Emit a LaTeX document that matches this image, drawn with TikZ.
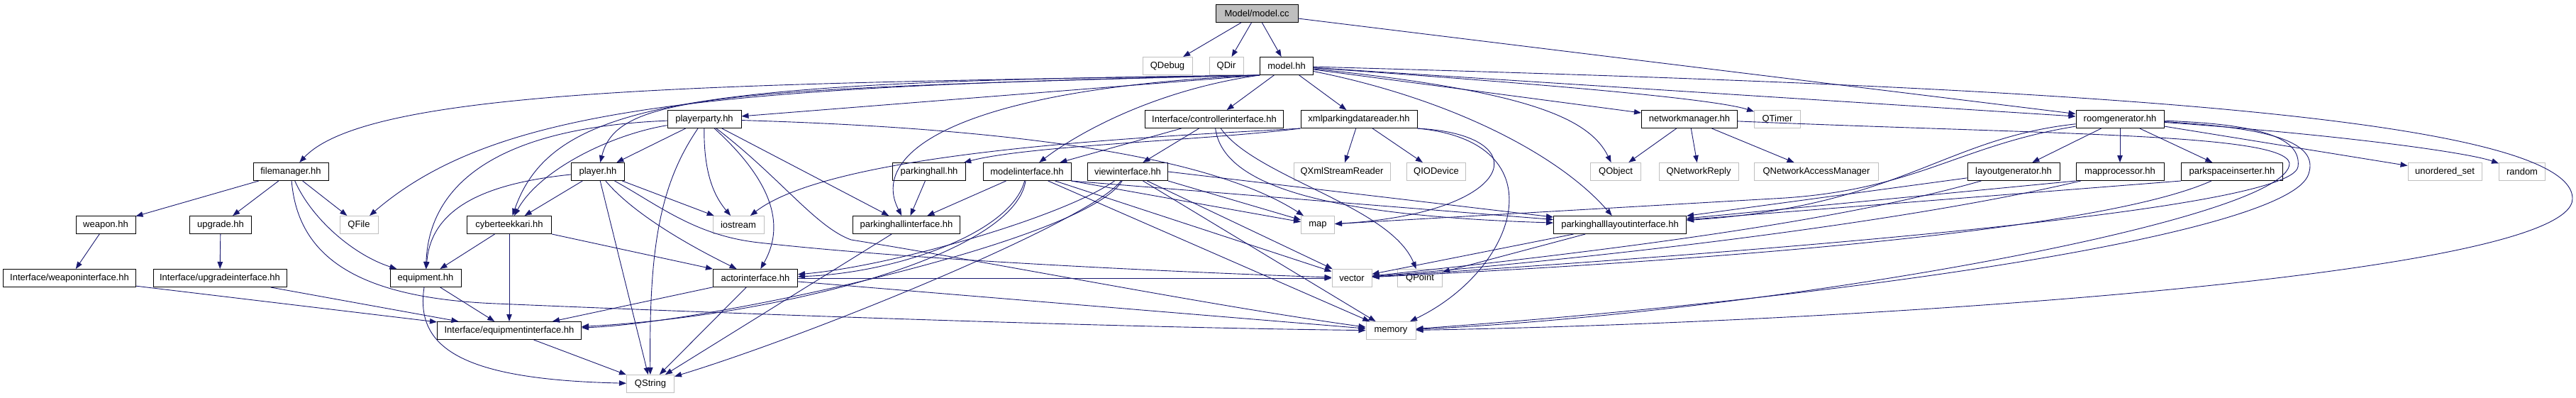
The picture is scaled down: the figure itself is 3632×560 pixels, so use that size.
\documentclass[tikz,border=0pt]{standalone}
\usepackage{fontspec}
\setmainfont{Liberation Sans}
\usetikzlibrary{arrows.meta}
\definecolor{edgeblue}{RGB}{25,25,112}
\definecolor{sysgray}{RGB}{191,191,191}
\tikzset{
  hdr/.style={draw=black, fill=white, line width=1pt, minimum height=25pt,
    inner xsep=1pt, inner ysep=0pt, font=\fontsize{13}{15}\selectfont},
  sys/.style={hdr, draw=sysgray},
  src/.style={hdr, fill=sysgray},
  inc/.style={draw=edgeblue, line width=0.9pt, -{Triangle[length=10pt,width=7.5pt]}},
}

\begin{document}
\begin{tikzpicture}[x=1pt, y=-1pt]
  \useasboundingbox (0,0) rectangle (3632,560);

  \node[src, minimum width=116pt] (modelcc) at (1772,19) {Model/model.cc};
  \node[sys, minimum width=70pt] (qdebug) at (1646,93) {QDebug};
  \node[sys, minimum width=48pt] (qdir) at (1729,93) {QDir};
  \node[hdr, minimum width=75pt] (modelhh) at (1814,93) {model.hh};

  \node[hdr, minimum width=104pt] (playerparty) at (993,168) {playerparty.hh};
  \node[hdr, minimum width=195pt] (ctrlif) at (1712,168) {Interface/controllerinterface.hh};
  \node[hdr, minimum width=164pt] (xmlreader) at (1916,168) {xmlparkingdatareader.hh};
  \node[hdr, minimum width=135pt] (netmgr) at (2382,168) {networkmanager.hh};
  \node[sys, minimum width=65pt] (qtimer) at (2506,168) {QTimer};
  \node[hdr, minimum width=124pt] (roomgen) at (2989,168) {roomgenerator.hh};

  \node[hdr, minimum width=106pt] (filemgr) at (410,242) {filemanager.hh};
  \node[hdr, minimum width=75pt] (player) at (843,242) {player.hh};
  \node[hdr, minimum width=103pt] (parkhall) at (1310,242) {parkinghall.hh};
  \node[hdr, minimum width=124pt] (modelif) at (1448,242) {modelinterface.hh};
  \node[hdr, minimum width=113pt] (viewif) at (1590,242) {viewinterface.hh};
  \node[sys, minimum width=136pt] (qxml) at (1892,242) {QXmlStreamReader};
  \node[sys, minimum width=83pt] (qiodev) at (2025,242) {QIODevice};
  \node[sys, minimum width=71pt] (qobject) at (2278,242) {QObject};
  \node[sys, minimum width=112pt] (qnetreply) at (2395,242) {QNetworkReply};
  \node[sys, minimum width=175pt] (qnam) at (2561,242) {QNetworkAccessManager};
  \node[hdr, minimum width=130pt] (layoutgen) at (2839,242) {layoutgenerator.hh};
  \node[hdr, minimum width=124pt] (mapproc) at (2989,242) {mapprocessor.hh};
  \node[hdr, minimum width=143pt] (parkspace) at (3147,242) {parkspaceinserter.hh};
  \node[sys, minimum width=104pt] (uset) at (3447,242) {unordered\_set};
  \node[sys, minimum width=65pt] (random) at (3556,242) {random};

  \node[hdr, minimum width=84pt] (weapon) at (149,317) {weapon.hh};
  \node[hdr, minimum width=87pt] (upgrade) at (311,317) {upgrade.hh};
  \node[sys, minimum width=54pt] (qfile) at (506,317) {QFile};
  \node[hdr, minimum width=119pt] (cyber) at (718,317) {cyberteekkari.hh};
  \node[sys, minimum width=72pt] (iostream) at (1041,317) {iostream};
  \node[hdr, minimum width=151pt] (parkhallif) at (1278,317) {parkinghallinterface.hh};
  \node[sys, minimum width=47pt] (map) at (1858,317) {map};
  \node[hdr, minimum width=187pt] (layoutif) at (2284,317) {parkinghalllayoutinterface.hh};

  \node[hdr, minimum width=187pt] (weaponif) at (98,392) {Interface/weaponinterface.hh};
  \node[hdr, minimum width=188pt] (upgradeif) at (310,392) {Interface/upgradeinterface.hh};
  \node[hdr, minimum width=100pt] (equipment) at (600,392) {equipment.hh};
  \node[hdr, minimum width=119pt] (actorif) at (1065,392) {actorinterface.hh};
  \node[sys, minimum width=56pt] (vector) at (1906,392) {vector};
  \node[sys, minimum width=63pt] (qpoint) at (2002,392) {QPoint};

  \node[hdr, minimum width=203pt] (equipif) at (718,466) {Interface/equipmentinterface.hh};
  \node[sys, minimum width=70pt] (memory) at (1961,466) {memory};

  \node[sys, minimum width=67pt] (qstring) at (917,541) {QString};

  \draw[inc] (modelcc) -- (qdebug);
  \draw[inc] (modelcc) -- (qdir);
  \draw[inc] (modelcc) -- (modelhh);
  \draw[inc] (modelcc) -- (roomgen);

  \draw[inc] (modelhh.south west) -- (playerparty);
  \draw[inc] (modelhh.south west) .. controls (1000,118) and (520,125) .. (filemgr);
  \draw[inc] (modelhh.south west) .. controls (1000,122) and (700,150) .. (qfile);
  \draw[inc] (modelhh.south west) .. controls (980,115) and (780,140) .. (cyber);
  \draw[inc] (modelhh.south west) .. controls (1000,125) and (870,135) .. (player);
  \draw[inc] (modelhh.south west) .. controls (1350,125) and (1225,215) .. (parkhallif);
  \draw[inc] (modelhh.south west) .. controls (1640,125) and (1530,180) .. (modelif);
  \draw[inc] (modelhh) -- (ctrlif);
  \draw[inc] (modelhh) -- (xmlreader);
  \draw[inc] (modelhh) .. controls (2050,140) and (2200,220) .. (layoutif);
  \draw[inc] (modelhh) .. controls (2150,128) and (2240,165) .. (qobject);
  \draw[inc] (modelhh) -- (netmgr);
  \draw[inc] (modelhh) .. controls (2200,120) and (2420,140) .. (qtimer);
  \draw[inc] (modelhh) -- (roomgen);
  \draw[inc] (modelhh) .. controls (2700,118) and (3627,150) .. (3627,280)
    .. controls (3627,390) and (2600,455) .. (memory);

  \draw[inc] (playerparty) -- (player);
  \draw[inc] (playerparty) .. controls (860,190) and (760,240) .. (cyber);
  \draw[inc] (playerparty) .. controls (700,180) and (605,260) .. (equipment);
  \draw[inc] (playerparty) .. controls (930,260) and (915,350) .. (qstring);
  \draw[inc] (playerparty) .. controls (992,250) and (1010,280) .. (iostream);
  \draw[inc] (playerparty) .. controls (1105,270) and (1100,330) .. (actorif);
  \draw[inc] (playerparty) -- (parkhallif);
  \draw[inc] (playerparty) .. controls (1400,180) and (1700,215) .. (map);
  \draw[inc] (playerparty) .. controls (1100,250) and (1150,320) .. (1200,338)
    .. controls (1400,370) and (1700,430) .. (memory);

  \draw[inc] (player) -- (cyber);
  \draw[inc] (player) .. controls (690,258) and (608,290) .. (equipment);
  \draw[inc] (player) -- (qstring);
  \draw[inc] (player) .. controls (900,310) and (1000,360) .. (actorif);
  \draw[inc] (player) -- (iostream);
  \draw[inc] (player) .. controls (930,290) and (980,332) .. (1070,342)
    .. controls (1300,368) and (1700,385) .. (vector);

  \draw[inc] (cyber) -- (equipment);
  \draw[inc] (cyber) -- (equipif);
  \draw[inc] (cyber) -- (actorif);
  \draw[inc] (equipment) -- (equipif);
  \draw[inc] (equipment) .. controls (585,490) and (650,535) .. (qstring);
  \draw[inc] (actorif) -- (equipif);
  \draw[inc] (actorif) -- (qstring);
  \draw[inc] (actorif) -- (vector);
  \draw[inc] (actorif) -- (memory);
  \draw[inc] (equipif) -- (qstring);

  \draw[inc] (filemgr) -- (weapon);
  \draw[inc] (filemgr) -- (upgrade);
  \draw[inc] (filemgr) -- (qfile);
  \draw[inc] (filemgr) .. controls (440,310) and (500,360) .. (equipment);
  \draw[inc] (filemgr) .. controls (420,360) and (500,420) .. (700,428)
    .. controls (1100,445) and (1600,462) .. (memory);
  \draw[inc] (weapon) -- (weaponif);
  \draw[inc] (upgrade) -- (upgradeif);
  \draw[inc] (weaponif) -- (equipif);
  \draw[inc] (upgradeif) -- (equipif);

  \draw[inc] (parkhall) -- (parkhallif);
  \draw[inc] (parkhallif) -- (qstring);

  \draw[inc] (modelif) -- (parkhallif);
  \draw[inc] (modelif) .. controls (1425,330) and (1260,385) .. (actorif);
  \draw[inc] (modelif) .. controls (1430,360) and (1100,445) .. (equipif);
  \draw[inc] (modelif.south east) -- (map);
  \draw[inc] (modelif) -- (vector);
  \draw[inc] (modelif) -- (memory);
  \draw[inc] (modelif.south east) -- (layoutif);

  \draw[inc] (viewif) .. controls (1500,305) and (1260,375) .. (actorif);
  \draw[inc] (viewif) .. controls (1530,340) and (1000,455) .. (equipif);
  \draw[inc] (viewif) .. controls (1540,310) and (1150,470) .. (qstring);
  \draw[inc] (viewif.south east) -- (map);
  \draw[inc] (viewif) -- (vector);
  \draw[inc] (viewif) -- (memory);
  \draw[inc] (viewif.east) -- (layoutif);

  \draw[inc] (ctrlif) -- (modelif);
  \draw[inc] (ctrlif) -- (viewif);
  \draw[inc] (ctrlif) .. controls (1725,270) and (1900,305) .. (layoutif);
  \draw[inc] (ctrlif) .. controls (1770,250) and (1960,290) .. (qpoint);

  \draw[inc] (xmlreader) -- (qxml);
  \draw[inc] (xmlreader) -- (qiodev);
  \draw[inc] (xmlreader.south west) .. controls (1700,198) and (1450,205) .. (parkhall);
  \draw[inc] (xmlreader.south west) .. controls (1650,192) and (1180,210) .. (iostream);
  \draw[inc] (xmlreader.south east) .. controls (2170,190) and (2140,300) .. (map);
  \draw[inc] (xmlreader.south east) .. controls (2200,200) and (2140,380) .. (memory);

  \draw[inc] (netmgr) -- (qobject);
  \draw[inc] (netmgr) -- (qnetreply);
  \draw[inc] (netmgr) -- (qnam);
  \draw[inc] (netmgr) .. controls (2900,190) and (3220,188) .. (3228,230)
    .. controls (3230,310) and (2500,440) .. (memory);

  \draw[inc] (roomgen) -- (layoutgen);
  \draw[inc] (roomgen) -- (mapproc);
  \draw[inc] (roomgen) -- (parkspace);
  \draw[inc] (roomgen) -- (uset);
  \draw[inc] (roomgen) .. controls (3300,190) and (3480,215) .. (random);
  \draw[inc] (roomgen) .. controls (2740,195) and (2680,290) .. (layoutif);
  \draw[inc] (roomgen) .. controls (2760,205) and (2700,270) .. (2500,280) -- (map);
  \draw[inc] (roomgen) .. controls (3190,175) and (3245,195) .. (3240,235)
    .. controls (3230,300) and (2400,360) .. (vector);
  \draw[inc] (roomgen) .. controls (3200,180) and (3270,200) .. (3255,245)
    .. controls (3230,330) and (2600,420) .. (memory);

  \draw[inc] (layoutgen) -- (layoutif);
  \draw[inc] (layoutgen) .. controls (2600,310) and (2300,350) .. (vector);
  \draw[inc] (mapproc.south west) -- (layoutif);
  \draw[inc] (mapproc) .. controls (2700,310) and (2300,360) .. (vector);
  \draw[inc] (parkspace.south west) -- (layoutif);
  \draw[inc] (parkspace) .. controls (2950,330) and (2350,370) .. (vector);
  \draw[inc] (layoutif) -- (vector);
  \draw[inc] (layoutif) -- (qpoint);
\end{tikzpicture}
\end{document}
